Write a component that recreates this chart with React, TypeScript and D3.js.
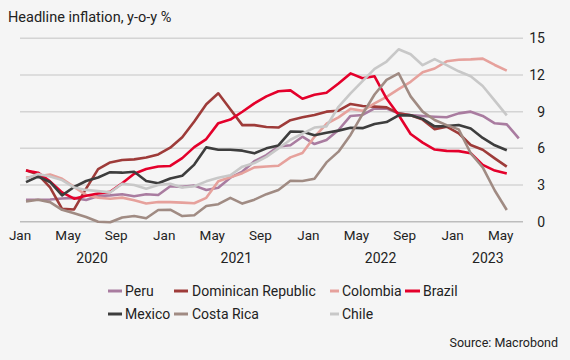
import React from 'react';
import * as d3 from 'd3';

// Monthly data, Jan 2020 onward (headline inflation, y-o-y %)
const peru = [1.8, 1.8, 1.82, 1.9, 1.95, 1.78, 2.1, 2.15, 2.25, 2.08, 2.25, 2.18,
  2.9, 2.85, 2.95, 2.6, 2.78, 3.6, 4.1, 4.95, 5.45, 6.15, 6.25, 6.95,
  6.35, 6.68, 7.5, 8.65, 8.73, 9.27, 9.25, 8.86, 8.73, 8.65, 8.59, 8.54,
  8.86, 9.0, 8.65, 8.05, 7.96, 6.82];
const dominicanRepublic = [4.2, 3.85, 2.8, 1.05, 1.0, 2.7, 4.3, 4.85, 5.05, 5.1, 5.25, 5.5,
  6.05, 6.9, 8.2, 9.6, 10.5, 9.2, 7.9, 7.9, 7.75, 7.7, 8.3, 8.54,
  8.73, 9.0, 9.08, 9.63, 9.46, 9.41, 9.35, 8.86, 8.7, 8.35, 7.57, 7.77,
  7.23, 6.27, 5.88, 5.18, 4.5];
const colombia = [3.62, 3.72, 3.86, 3.51, 2.85, 2.19, 1.97, 1.88, 1.97, 1.75, 1.49, 1.61,
  1.6, 1.56, 1.51, 1.95, 3.3, 3.63, 3.97, 4.44, 4.51, 4.58, 5.26, 5.62,
  6.94, 8.01, 8.53, 9.23, 9.07, 9.67, 10.21, 10.84, 11.44, 12.22, 12.53, 13.12,
  13.25, 13.28, 13.34, 12.82, 12.36];
const brazil = [4.19, 4.01, 3.3, 2.4, 1.88, 2.13, 2.31, 2.44, 3.14, 3.92, 4.31, 4.52,
  4.56, 5.2, 6.1, 6.76, 8.06, 8.35, 8.99, 9.68, 10.25, 10.67, 10.74, 10.06,
  10.38, 10.54, 11.3, 12.13, 11.73, 11.89, 10.07, 8.73, 7.17, 6.47, 5.9, 5.79,
  5.77, 5.6, 4.65, 4.18, 3.94];
const mexico = [3.24, 3.7, 3.25, 2.15, 2.84, 3.33, 3.62, 4.05, 4.01, 4.09, 3.33, 3.15,
  3.54, 3.76, 4.67, 6.08, 5.89, 5.88, 5.81, 5.59, 6.0, 6.24, 7.37, 7.36,
  7.07, 7.28, 7.45, 7.68, 7.65, 7.99, 8.15, 8.7, 8.7, 8.41, 7.8, 7.82,
  7.91, 7.62, 6.85, 6.25, 5.84];
const costaRica = [1.65, 1.8, 1.6, 0.97, 0.69, 0.38, 0.0, -0.05, 0.35, 0.47, 0.28, 0.96,
  0.98, 0.46, 0.53, 1.28, 1.43, 1.95, 1.48, 1.8, 2.25, 2.59, 3.35, 3.33,
  3.52, 4.85, 5.73, 7.1, 8.8, 10.4, 11.6, 12.14, 10.25, 9.0, 8.32, 7.9,
  7.55, 5.6, 4.45, 2.55, 0.96];
const chile = [3.5, 3.9, 3.7, 3.4, 2.8, 2.6, 2.5, 2.4, 3.1, 3.0, 2.7, 3.0,
  3.1, 2.8, 2.9, 3.3, 3.6, 3.8, 4.5, 4.8, 5.3, 6.0, 6.7, 7.2,
  7.7, 7.8, 9.4, 10.5, 11.5, 12.5, 13.1, 14.1, 13.7, 12.8, 13.3, 12.8,
  12.3, 11.9, 11.1, 9.9, 8.7];

const seriesNames = ['Peru', 'Dominican Republic', 'Colombia', 'Brazil', 'Mexico', 'Costa Rica', 'Chile'];
const seriesValues = [peru, dominicanRepublic, colombia, brazil, mexico, costaRica, chile];
const seriesColors = ['#a97ca0', '#9e3b39', '#e6a19c', '#e4002b', '#3d3d3d', '#a08b83', '#c8c8c8'];

const monthTickIndex = [0, 4, 8, 12, 16, 20, 24, 28, 32, 36, 40];
const monthTickLabels = ['Jan', 'May', 'Sep', 'Jan', 'May', 'Sep', 'Jan', 'May', 'Sep', 'Jan', 'May'];
const yearLabels = ['2020', '2021', '2022', '2023'];
const yTicks = [0, 3, 6, 9, 12, 15];

const FONT = 'Roboto, "Noto Sans", sans-serif';

export default function App() {
  const W = 570, H = 360;
  const domainEnd = 41.85;
  const x = d3.scaleLinear().domain([0, domainEnd]).range([20, 523]);
  const y = d3.scaleLinear().domain([0, 15]).range([221.7, 38.3]);
  const line = d3.line<number>().x((_, i) => x(i + 0.5)).y(d => y(d));

  // legend layout: [swatchX0, swatchX1, textX, baseline]
  const legendPos = [
    [108, 122, 125, 296],
    [174, 188, 192, 296],
    [330, 339, 342, 296],
    [405, 420, 423, 296],
    [108, 122, 125, 319],
    [174, 188, 192, 319],
    [330, 339, 342, 319],
  ];

  return (
    <svg width={W} height={H} style={{ position: 'absolute', left: 0, top: 0 }} fontFamily={FONT}>
      <rect x={0} y={0} width={W} height={H} fill="#f5f5f5" />
      <text x={8} y={22} fontSize={14.5} fill="#222">Headline inflation, y-o-y %</text>

      {yTicks.map(t => (
        <g key={t}>
          <line x1={20} x2={523} y1={y(t)} y2={y(t)} stroke={t === 0 ? '#bdbdbd' : '#d4d4d4'} strokeWidth={1.5} />
          <text x={545} y={y(t)} dy="0.36em" textAnchor="end" fontSize={14} fill="#222">{t}</text>
        </g>
      ))}

      {monthTickIndex.map((m, i) => (
        <text key={'m' + i} x={x(m)} y={240} textAnchor="middle" fontSize={13.5} fill="#222">{monthTickLabels[i]}</text>
      ))}
      {yearLabels.map((yl, i) => {
        const s = i * 12;
        const e = Math.min(s + 12, domainEnd);
        return <text key={yl} x={x((s + e) / 2)} y={263} textAnchor="middle" fontSize={14} fill="#222">{yl}</text>;
      })}

      {seriesValues.map((vals, si) => (
        <path key={seriesNames[si]} d={line(vals) || ''} fill="none" stroke={seriesColors[si]}
          strokeWidth={2.6} strokeLinejoin="round" strokeLinecap="butt" />
      ))}

      {seriesNames.map((n, i) => {
        const [sx0, sx1, tx, by] = legendPos[i];
        return (
          <g key={'lg' + n}>
            <line x1={sx0} x2={sx1} y1={by - 5} y2={by - 5} stroke={seriesColors[i]} strokeWidth={3} />
            <text x={tx} y={by} fontSize={14} fill="#222">{n}</text>
          </g>
        );
      })}

      <text x={558} y={347} textAnchor="end" fontSize={12.5} fill="#222">Source: Macrobond</text>
    </svg>
  );
}
